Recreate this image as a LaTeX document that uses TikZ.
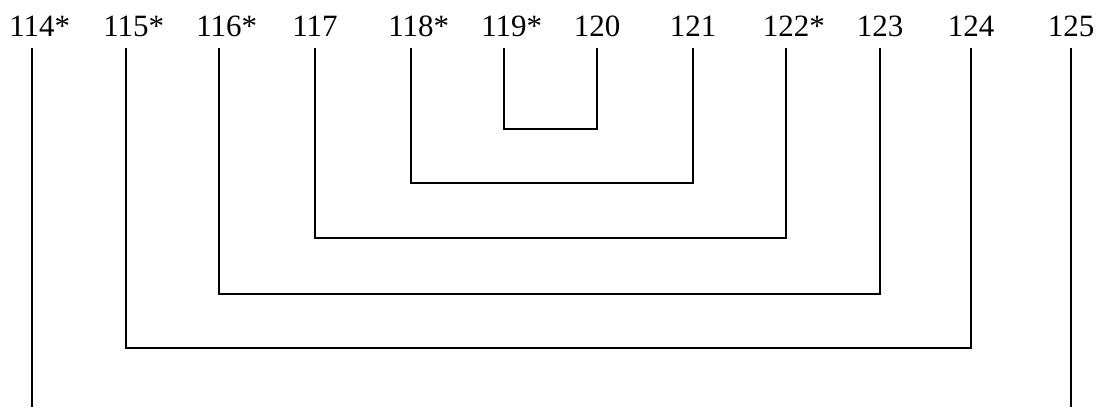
\documentclass[tikz,border=0pt]{standalone}
\usepackage{fontspec}
\setmainfont{Liberation Serif}
\begin{document}
\begin{tikzpicture}[x=1pt,y=-1pt,
  lab/.style={anchor=base,inner sep=0pt,font=\fontsize{31}{36}\selectfont},
  link/.style={line width=1.5pt,line join=miter}]
\useasboundingbox (0,0) rectangle (1102,407);
\node[lab] (n114) at (32,36) {114\rlap{*}};
\node[lab] (n115) at (126,36) {115\rlap{*}};
\node[lab] (n116) at (219,36) {116\rlap{*}};
\node[lab] (n117) at (315,36) {117};
\node[lab] (n118) at (411,36) {118\rlap{*}};
\node[lab] (n119) at (504,36) {119\rlap{*}};
\node[lab] (n120) at (597,36) {120};
\node[lab] (n121) at (693,36) {121};
\node[lab] (n122) at (786,36) {122\rlap{*}};
\node[lab] (n123) at (880,36) {123};
\node[lab] (n124) at (971,36) {124};
\node[lab] (n125) at (1071,36) {125};
\coordinate (e114) at (32,407);
\coordinate (e125) at (1071,407);
\draw[link] ([yshift=-12pt]n119.base) -- ++(0,81) -| ([yshift=-12pt]n120.base);
\draw[link] ([yshift=-12pt]n118.base) -- ++(0,135) -| ([yshift=-12pt]n121.base);
\draw[link] ([yshift=-12pt]n117.base) -- ++(0,190) -| ([yshift=-12pt]n122.base);
\draw[link] ([yshift=-12pt]n116.base) -- ++(0,246) -| ([yshift=-12pt]n123.base);
\draw[link] ([yshift=-12pt]n115.base) -- ++(0,300) -| ([yshift=-12pt]n124.base);
\draw[link] ([yshift=-12pt]n114.base) -- (e114);
\draw[link] ([yshift=-12pt]n125.base) -- (e125);
\end{tikzpicture}
\end{document}
